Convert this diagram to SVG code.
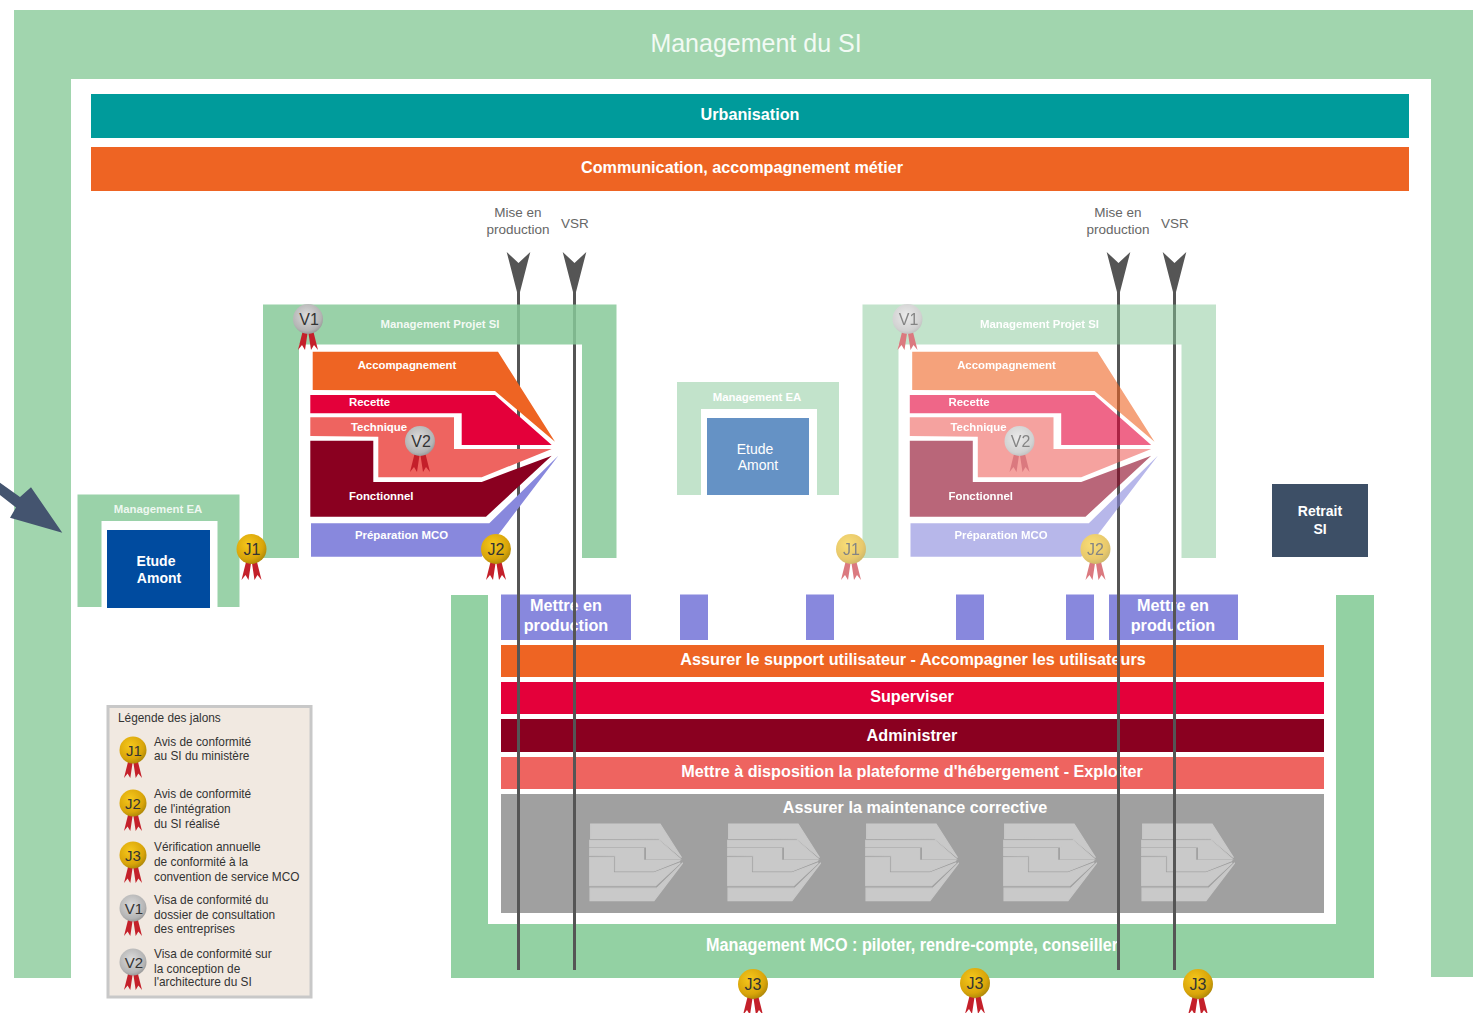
<svg xmlns="http://www.w3.org/2000/svg" xmlns:xlink="http://www.w3.org/1999/xlink" width="1473" height="1013" viewBox="0 0 1473 1013">
<style>
text{font-family:"Liberation Sans",Arial,sans-serif}
.c{text-anchor:middle}
.w{fill:#fff;font-weight:bold}
.b16{font-size:16.2px}
.b14{font-size:14px}
.b11{font-size:11.4px}
.g14{font-size:13.5px;fill:#666}
.leg{font-size:11.85px;fill:#333}
.m{font-size:16px;fill:#333;text-anchor:middle}
.ml{font-size:15px;fill:#333;text-anchor:middle}
.pg{fill:#87c999;fill-opacity:.85}
.ag{fill:#9ad2a9}
.purple{fill:#8888dd}
.fade{opacity:.6}
.axis{stroke:#555;stroke-width:3;fill:none;marker-end:url(#head)}
</style>
<defs>
<radialGradient id="gold" cx=".4" cy=".35" r=".7"><stop offset="0" stop-color="#f6c81c"/><stop offset=".7" stop-color="#d9a50a"/><stop offset="1" stop-color="#a88408"/></radialGradient>
<radialGradient id="silver" cx=".45" cy=".4" r=".7"><stop offset="0" stop-color="#dcdcdc"/><stop offset=".7" stop-color="#b4b4b4"/><stop offset="1" stop-color="#858585"/></radialGradient>
<g id="rib"><polygon points="-5,11 0,11 -3,31 -6,26 -10,31" fill="#c4202a"/><polygon points="5,11 0,11 3,31 6,26 10,31" fill="#c4202a"/></g>
<g id="mg"><use href="#rib"/><circle r="15" fill="url(#gold)"/></g>
<g id="ms"><use href="#rib"/><circle r="15" fill="url(#silver)"/></g>
<marker id="head" markerUnits="userSpaceOnUse" markerWidth="42" markerHeight="26" refX="0" refY="13" orient="auto" viewBox="0 0 42 26"><polygon points="0,11.5 40,1.2 29,13 40,24.8 0,14.5" fill="#555"/></marker>
<polygon id="p1" points="312.7,351.7 498,351.7 555,441.7 495,391 312.7,390"/>
<polygon id="p2" points="310.3,395 495,395 551.7,445 461.7,445 461.7,413.3 310.3,413.3"/>
<polygon id="p3" points="310.3,417.3 454,417.3 454,449 551.7,449 481.7,477.3 378.3,477.3 378.3,436.7 310.3,436"/>
<polygon id="p4" points="310.3,440.7 373.3,440.7 373.3,482 481.7,482 551.7,455.7 486,516.7 310.3,516.7"/>
<polygon id="p5" points="311,523.3 489.3,523.3 558.3,455.7 498,535 481.7,556.7 311,556.7"/>
<g id="mini" fill="#c9c9c9" stroke="#c9c9c9" stroke-width="3" transform="scale(.375 .374) translate(-311 -351.7)"><use href="#p1"/><use href="#p2"/><use href="#p3"/><use href="#p4"/><use href="#p5"/></g>
</defs>
<rect width="1473" height="1013" fill="#fff"/>

<g id="management-si">
<path d="M14 10H1473V977H1431V79H71V978H14Z" fill="#a1d5ae"/>
<text x="756" y="52" class="c" font-size="25" fill="#f2faf4">Management du SI</text>
</g>
<g id="urbanisation"><rect x="91" y="94" width="1318" height="44" fill="#009b9b"/><text x="750" y="120" class="c w b16">Urbanisation</text></g>
<g id="communication"><rect x="91" y="147" width="1318" height="44" fill="#ee6423"/><text x="742" y="173" class="c w b16">Communication, accompagnement métier</text></g>

<g id="mco">
<path d="M451 595H488V924H1336V595H1374V978H451Z" fill="#93d1a3"/>
<text x="912" y="951" class="c w" font-size="18" textLength="412" lengthAdjust="spacingAndGlyphs" fill="#eef8f0">Management MCO : piloter, rendre-compte, conseiller</text>
<rect x="501" y="594.500" width="130" height="45.500" class="purple"/>
<rect x="680" y="594.500" width="28" height="45.500" class="purple"/>
<rect x="806" y="594.500" width="28" height="45.500" class="purple"/>
<rect x="956" y="594.500" width="28" height="45.500" class="purple"/>
<rect x="1066" y="594.500" width="28" height="45.500" class="purple"/>
<rect x="1109" y="594.500" width="129" height="45.500" class="purple"/>
<text x="566" y="611" class="c w b16">Mettre en</text><text x="566" y="631" class="c w b16">production</text>
<text x="1173" y="611" class="c w b16">Mettre en</text><text x="1173" y="631" class="c w b16">production</text>
<rect x="501" y="645" width="823" height="32" fill="#ee6423"/><text x="913" y="665" class="c w b16">Assurer le support utilisateur - Accompagner les utilisateurs</text>
<rect x="501" y="682" width="823" height="32" fill="#e4003a"/><text x="912" y="702" class="c w b16">Superviser</text>
<rect x="501" y="719" width="823" height="33" fill="#8a0020"/><text x="912" y="741" class="c w b16">Administrer</text>
<rect x="501" y="757" width="823" height="32" fill="#ee6460"/><text x="912" y="777" class="c w b16">Mettre à disposition la plateforme d'hébergement - Exploiter</text>
<rect x="501" y="794" width="823" height="119" fill="#a0a0a0"/><text x="915" y="813" class="c w b16">Assurer la maintenance corrective</text>
<use href="#mini" transform="translate(590 824)"/>
<use href="#mini" transform="translate(728 824)"/>
<use href="#mini" transform="translate(866 824)"/>
<use href="#mini" transform="translate(1004 824)"/>
<use href="#mini" transform="translate(1142 824)"/>
</g>

<g id="connectors">
<line x1="518.5" y1="970" x2="518.5" y2="292" class="axis"/>
<line x1="574.5" y1="970" x2="574.5" y2="292" class="axis"/>
<line x1="1118.5" y1="970" x2="1118.5" y2="292" class="axis"/>
<line x1="1174.5" y1="970" x2="1174.5" y2="292" class="axis"/>
<path d="M0 482.7L20 497L31 487.3L62.3 532.7L10 517.7L16 507.5L0 495Z" fill="#44546f"/>
</g>
<g id="labels-axes">
<text x="518" y="217" class="c g14">Mise en</text><text x="518" y="234" class="c g14">production</text><text x="575" y="228" class="c g14">VSR</text>
<text x="1118" y="217" class="c g14">Mise en</text><text x="1118" y="234" class="c g14">production</text><text x="1175" y="228" class="c g14">VSR</text>
</g>

<g id="etude-amont-1">
<path d="M77.500 494.500H239.500V607H217.500V521H101.500V607H77.500Z" class="ag"/>
<text x="158" y="513" class="c w b11" fill-opacity=".85">Management EA</text>
<rect x="107" y="530" width="103" height="78" fill="#004b9f"/>
<text x="156" y="566" class="c w b14">Etude</text><text x="159" y="583" class="c w b14">Amont</text>
</g>

<g id="projet-1">
<path d="M263 304.500H616.500V558H582V344.500H299V558H263Z" class="pg"/>
<text x="440" y="328" class="c w b11" fill-opacity=".9">Management Projet SI</text>
<use href="#p1" fill="#ee6423"/><use href="#p2" fill="#e4003a"/><use href="#p3" fill="#ee6460"/><use href="#p4" fill="#8a0020"/><use href="#p5" fill="#8888dd"/>
<text x="407" y="369" class="c w b11">Accompagnement</text>
<text x="349" y="406" class="w b11">Recette</text>
<text x="351" y="431" class="w b11">Technique</text>
<text x="349" y="500" class="w b11">Fonctionnel</text>
<text x="355" y="539" class="w b11">Préparation MCO</text>
<use href="#ms" x="308" y="319"/><text x="309" y="325" class="m">V1</text>
<use href="#ms" x="420" y="441"/><text x="421" y="447" class="m">V2</text>
<use href="#mg" x="251.500" y="549"/><text x="252" y="555" class="m">J1</text>
<use href="#mg" x="496" y="549"/><text x="496" y="555" class="m">J2</text>
</g>

<g id="etude-amont-2" class="fade">
<path d="M677 382H839V495H817V409H701V495H677Z" class="ag"/>
<text x="757" y="401" class="c w b11">Management EA</text>
<rect x="707" y="418" width="102" height="77" fill="#004b9f"/>
<text x="755" y="454" class="c" font-size="14" fill="#fff">Etude</text><text x="758" y="470" class="c" font-size="14" fill="#fff">Amont</text>
</g>

<g id="projet-2" class="fade">
<g transform="translate(599.500 0)">
<path d="M263 304.500H616.500V558H582V344.500H299V558H263Z" class="pg"/>
<text x="440" y="328" class="c w b11">Management Projet SI</text>
<use href="#p1" fill="#ee6423"/><use href="#p2" fill="#e4003a"/><use href="#p3" fill="#ee6460"/><use href="#p4" fill="#8a0020"/><use href="#p5" fill="#8888dd"/>
<text x="407" y="369" class="c w b11">Accompagnement</text>
<text x="349" y="406" class="w b11">Recette</text>
<text x="351" y="431" class="w b11">Technique</text>
<text x="349" y="500" class="w b11">Fonctionnel</text>
<text x="355" y="539" class="w b11">Préparation MCO</text>
<use href="#ms" x="308" y="319"/><text x="309" y="325" class="m">V1</text>
<use href="#ms" x="420" y="441"/><text x="421" y="447" class="m">V2</text>
<use href="#mg" x="251.500" y="549"/><text x="252" y="555" class="m">J1</text>
<use href="#mg" x="496" y="549"/><text x="496" y="555" class="m">J2</text>
</g>
</g>

<g id="retrait-si"><rect x="1272" y="484" width="96" height="73" fill="#3d4f66"/><text x="1320" y="516" class="c w b14">Retrait</text><text x="1320" y="534" class="c w b14">SI</text></g>

<g id="jalons-j3">
<use href="#mg" x="753" y="984"/><text x="753" y="990" class="m">J3</text>
<use href="#mg" x="975" y="983"/><text x="975" y="989" class="m">J3</text>
<use href="#mg" x="1198" y="984"/><text x="1198" y="990" class="m">J3</text>
</g>

<g id="legende">
<rect x="108" y="706.500" width="203" height="290.500" fill="#f1e9e1" stroke="#c8c8c8" stroke-width="3"/>
<text x="118" y="722" class="leg">Légende des jalons</text>
<use href="#mg" transform="translate(133 750) scale(.9)"/><text x="134" y="755.500" class="ml">J1</text>
<text x="154" y="745.500" class="leg">Avis de conformité</text><text x="154" y="759.500" class="leg">au SI du ministère</text>
<use href="#mg" transform="translate(133 803) scale(.9)"/><text x="133" y="808.500" class="ml">J2</text>
<text x="154" y="798" class="leg">Avis de conformité</text><text x="154" y="813" class="leg">de l'intégration</text><text x="154" y="828" class="leg">du SI réalisé</text>
<use href="#mg" transform="translate(133 855) scale(.9)"/><text x="133" y="860.500" class="ml">J3</text>
<text x="154" y="851" class="leg">Vérification annuelle</text><text x="154" y="866" class="leg">de conformité à la</text><text x="154" y="881" class="leg">convention de service MCO</text>
<use href="#ms" transform="translate(133 908) scale(.9)"/><text x="134" y="913.500" class="ml">V1</text>
<text x="154" y="904" class="leg">Visa de conformité du</text><text x="154" y="919" class="leg">dossier de consultation</text><text x="154" y="933" class="leg">des entreprises</text>
<use href="#ms" transform="translate(133 962) scale(.9)"/><text x="134" y="967.500" class="ml">V2</text>
<text x="154" y="958" class="leg">Visa de conformité sur</text><text x="154" y="973" class="leg">la conception de</text><text x="154" y="986" class="leg">l'architecture du SI</text>
</g>
</svg>
